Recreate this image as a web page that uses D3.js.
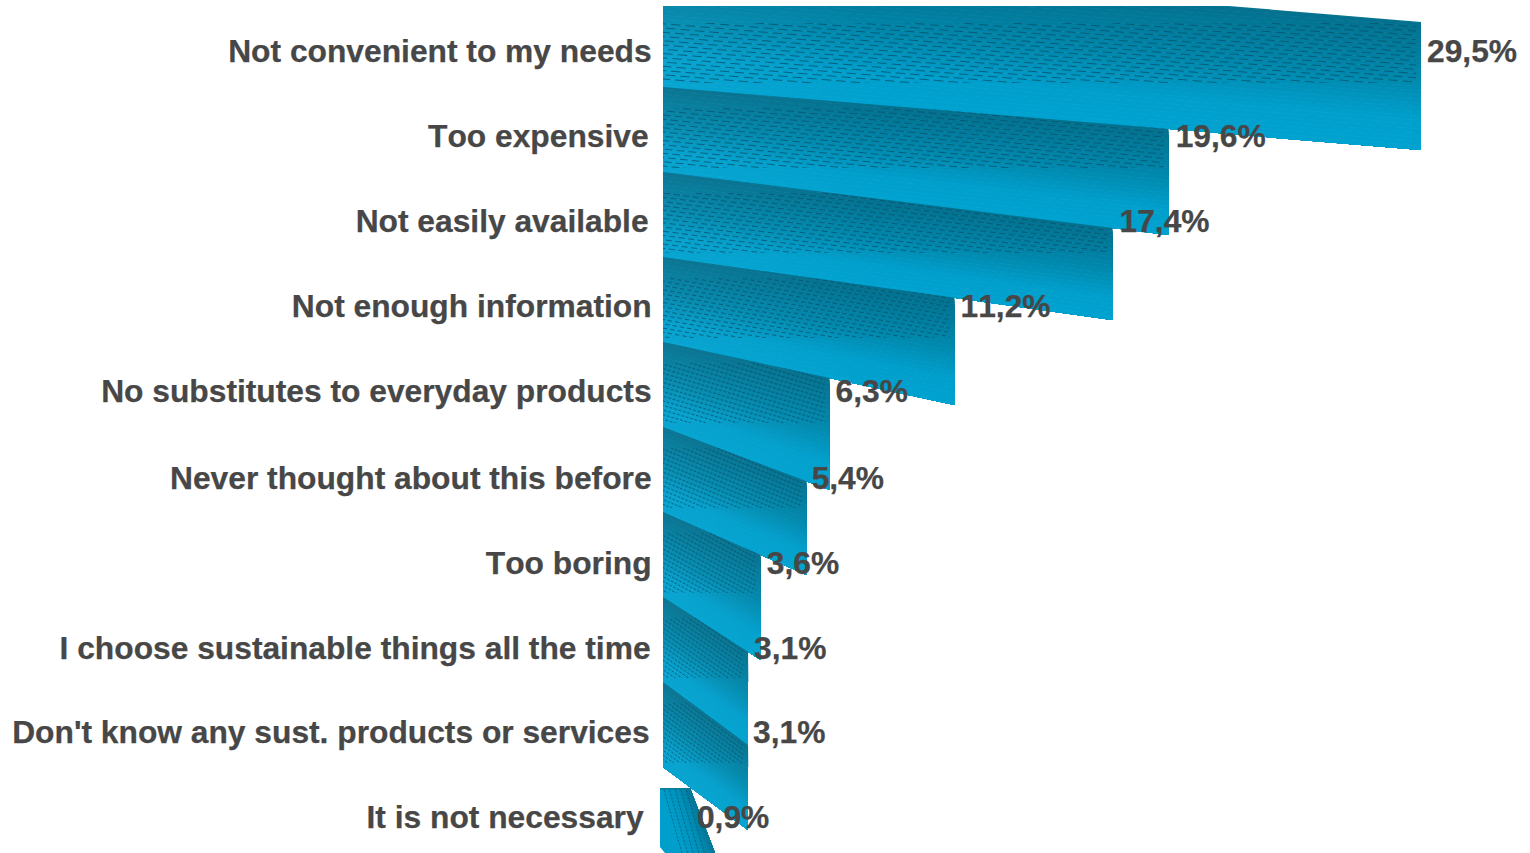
<!DOCTYPE html>
<html>
<head>
<meta charset="utf-8">
<script src="https://cdn.jsdelivr.net/npm/d3@7/dist/d3.min.js"></script>
<style>
  html, body { margin: 0; padding: 0; background: #fff; }
  svg { display: block; }
  text { font-family: "Liberation Sans", Arial, sans-serif; font-weight: 700; font-kerning: none; fill: #474747; stroke: #474747; stroke-width: 0.25px; }
</style>
</head>
<body>
<svg id="chart" width="1530" height="853"></svg>
<script>
// Reasons for not choosing sustainable options, share of respondents (%)
const categories = [
  "Not convenient to my needs",
  "Too expensive",
  "Not easily available",
  "Not enough information",
  "No substitutes to everyday products",
  "Never thought about this before",
  "Too boring",
  "I choose sustainable things all the time",
  "Don't know any sust. products or services",
  "It is not necessary"
];
const shares = [29.5, 19.6, 17.4, 11.2, 6.3, 5.4, 3.6, 3.1, 3.1, 0.9];

// Small per-row nudges of the text, in px
const nameShiftX = [0, -3, -3, 0, 0, 0, 0, -1, -2, -8];
const rowShiftY = [0, 0, 0, 0, 0, 2, 2, 2, 1, 1];
const valueShiftX = [0, 1, 1, 0, 0, -1, 0, 0, -1, -1];

const W = 1530, H = 853;
const BASE_X = 663;      // left edge of the sheared bars
const TOP_CLIP = 6;      // the tallest bar is cut flat here
const DROP = 63;         // how far a bar's lower edge falls from left to right
const FIRST_H = 128;     // thickness of the first bar
const FONT = 31.75;

const svg = d3.select("#chart");
const x = d3.scaleLinear().domain([0, 29.5]).range([669, 1421]);
const y = d3.scaleBand().domain(categories).range([2, 852]);

const shade = d3.scaleLinear()
  .domain([0, 0.45, 0.75, 1])
  .range(["#04718f", "#0089ae", "#009fcc", "#00a2d0"]);
const line = d3.line();
const defs = svg.append("defs");

// Soft highlight at the root of every bar
const glow = defs.append("linearGradient").attr("id", "root-glow")
  .attr("gradientUnits", "userSpaceOnUse")
  .attr("x1", BASE_X).attr("x2", BASE_X + 220).attr("y1", 0).attr("y2", 0);
glow.append("stop").attr("offset", 0).attr("stop-color", "#fff").attr("stop-opacity", 0.035);
glow.append("stop").attr("offset", 1).attr("stop-color", "#fff").attr("stop-opacity", 0);

svg.append("clipPath").attr("id", "plot-clip")
  .append("rect").attr("x", 0).attr("y", TOP_CLIP).attr("width", W).attr("height", H);

const plot = svg.append("g").attr("clip-path", "url(#plot-clip)");

// Lower edge of bar i, as y at a given x
function lowerEdge(i, px) {
  const y0 = y(categories[i]) + y.step();
  return y0 + DROP * (px - BASE_X) / (x(shares[i]) - BASE_X);
}

categories.slice(0, 9).forEach((name, i) => {
  const xR = x(shares[i]);
  const botL = lowerEdge(i, BASE_X), botR = lowerEdge(i, xR);
  const topL = i ? lowerEdge(i - 1, BASE_X) : botL - FIRST_H;
  const topR = i ? lowerEdge(i - 1, xR) : botR - FIRST_H;
  const at = v => [topL + (botL - topL) * v, topR + (botR - topR) * v];

  const g = plot.append("g");
  const outline = [[BASE_X, topL], [xR, topR], [xR, botR], [BASE_X, botL]];

  // Shading runs across the bar, painted back to front so no seams show
  g.selectAll("path.band").data(d3.range(0, 1, 1 / 48)).join("path")
    .attr("class", "band")
    .attr("fill", v => shade(v))
    .attr("d", v => {
      const [l, r] = at(v);
      return line([[BASE_X, l], [xR, r], [xR, botR], [BASE_X, botL]]) + "Z";
    });
  g.append("path").attr("d", line(outline) + "Z").attr("fill", "url(#root-glow)");

  // Texture lines follow the mean tilt of the two edges
  const rowTop = y(name);
  const clipBar = `bar-clip-${i}`, clipWin = `win-clip-${i}`;
  defs.append("clipPath").attr("id", clipBar)
    .append("path").attr("d", line(outline) + "Z");
  defs.append("clipPath").attr("id", clipWin)
    .append("rect").attr("x", BASE_X).attr("y", rowTop + 21)
    .attr("width", Math.max(0, xR - BASE_X - 5)).attr("height", 60);

  const len = xR - BASE_X;
  const slope = ((topR - topL) + (botR - botL)) / 2 / len;
  const span = len * slope;
  const gap = slope > 0.2 ? 4.6 : 4.25;
  const dash = Math.max(2.4, 0.8 / slope);
  const space = Math.min(dash * 0.7, 1.1 + dash * 0.4);

  const inBar = g.append("g").attr("clip-path", `url(#${clipBar})`);

  // faint pale dashes over the whole bar
  inBar.append("g").selectAll("line")
    .data(d3.range(topL - span, botL + 4, gap))
    .join("line")
    .attr("x1", BASE_X).attr("x2", xR)
    .attr("y1", d => d).attr("y2", d => d + span)
    .attr("stroke", "#7fd3ea")
    .attr("stroke-width", 0.8)
    .attr("stroke-opacity", 0.09)
    .attr("stroke-dasharray", `${dash} ${space}`)
    .attr("stroke-dashoffset", (d, k) => k * dash * 0.55);

  // darker dashes inside a horizontal window of the row
  inBar.append("g").attr("clip-path", `url(#${clipWin})`)
    .selectAll("line")
    .data(d3.range(rowTop + 21 - span, rowTop + 81, gap))
    .join("line")
    .attr("x1", BASE_X).attr("x2", xR)
    .attr("y1", d => d).attr("y2", d => d + span)
    .attr("stroke", "#07536d")
    .attr("stroke-width", 0.95)
    .attr("stroke-opacity", 0.85)
    .attr("stroke-dasharray", `${dash} ${space}`)
    .attr("stroke-dashoffset", (d, k) => k * dash * 0.55);
});

// The last bar leans the other way and its shading runs sideways
(function lastBar() {
  const xL = 660, top = 788, bottom = 853, xR = x(shares[9]) - 2, lean = 25;
  const g = plot.append("g");
  const width = xR - xL;
  const lastShade = d3.scaleLinear().domain([0, 0.55, 1])
    .range(["#009ecb", "#0090b8", "#087494"]);
  const outline = [[xL, top], [xR, top], [xR + lean, bottom], [xL + 5, bottom], [xL, bottom - 6]];
  defs.append("clipPath").attr("id", "last-clip")
    .append("path").attr("d", line(outline) + "Z");
  const inner = g.append("g").attr("clip-path", "url(#last-clip)");
  inner.append("rect").attr("x", xL).attr("y", top)
    .attr("width", width + lean).attr("height", bottom - top).attr("fill", lastShade(0));
  inner.selectAll("path.band").data(d3.range(0, 1, 1 / 32)).join("path")
    .attr("class", "band")
    .attr("fill", u => lastShade(u))
    .attr("d", u => {
      const a = xL + width * u;
      return line([[a, top], [xR + 2, top], [xR + lean + 2, bottom], [a + lean, bottom]]) + "Z";
    });
  inner.append("rect").attr("x", xL).attr("y", top).attr("width", width + 4)
    .attr("height", 1.5).attr("fill", "#0b7a99");
  inner.selectAll("line").data(d3.range(xL + 4, xR - 2, 5.6)).join("line")
    .attr("x1", d => d).attr("x2", d => d + 18)
    .attr("y1", top + 2).attr("y2", bottom)
    .attr("stroke", "#07536d").attr("stroke-width", 0.85)
    .attr("stroke-opacity", 0.75).attr("stroke-dasharray", "2.4 1.3");
})();

// Category names, right aligned against the bars
svg.append("g").selectAll("text").data(categories).join("text")
  .attr("x", (d, i) => 651.6 + nameShiftX[i])
  .attr("y", (d, i) => y(d) + 60 + rowShiftY[i])
  .attr("text-anchor", "end")
  .attr("font-size", FONT)
  .text(d => d);

// Share labels past the end of each bar
svg.append("g").selectAll("text").data(shares).join("text")
  .attr("x", (d, i) => x(d) + 6 + valueShiftX[i])
  .attr("y", (d, i) => y(categories[i]) + 60 + rowShiftY[i])
  .attr("font-size", FONT)
  .text(d => d.toFixed(1).replace(".", ",") + "%");
</script>
</body>
</html>
